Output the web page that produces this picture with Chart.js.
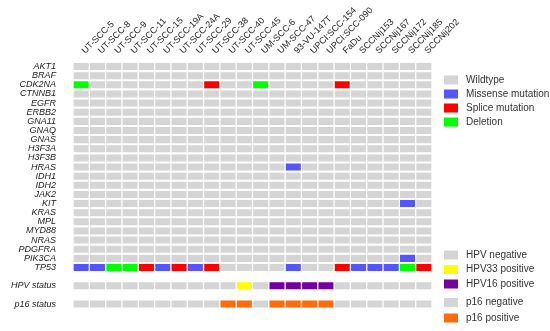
<!DOCTYPE html>
<html lang="en">
<head>
  <meta charset="UTF-8" />
  <title>Mutation overview of HNSCC cell lines</title>
  <script src="https://cdn.jsdelivr.net/npm/chart.js@4.4.0/dist/chart.umd.min.js"></script>
  <style>
    body {
      margin: 0;
      background-color: #fff;
    }
    #wrap {
      width: 550px;
      height: 331px;
    }
  </style>
</head>
<body>
  <div id="wrap"><canvas id="oncoprint" width="550" height="331"></canvas></div>

  <script>
    const cellLines = ['UT-SCC-5', 'UT-SCC-8', 'UT-SCC-9', 'UT-SCC-11', 'UT-SCC-15', 'UT-SCC-19A',
      'UT-SCC-24A', 'UT-SCC-29', 'UT-SCC-38', 'UT-SCC-40', 'UT-SCC-45', 'UM-SCC-6', 'UM-SCC-47',
      '93-VU-147T', 'UPCI:SCC-154', 'UPCI:SCC-090', 'FaDu', 'SCCNij153', 'SCCNij167',
      'SCCNij172', 'SCCNij185', 'SCCNij202'];

    const genes = ['AKT1', 'BRAF', 'CDK2NA', 'CTNNB1', 'EGFR', 'ERBB2', 'GNA11', 'GNAQ', 'GNAS',
      'H3F3A', 'H3F3B', 'HRAS', 'IDH1', 'IDH2', 'JAK2', 'KIT', 'KRAS', 'MPL', 'MYD88', 'NRAS',
      'PDGFRA', 'PIK3CA', 'TP53'];

    // W = wildtype, M = missense, S = splice, D = deletion (one letter per cell line)
    const mutations = [
      'WWWWWWWWWWWWWWWWWWWWWW', // AKT1
      'WWWWWWWWWWWWWWWWWWWWWW', // BRAF
      'DWWWWWWWSWWDWWWWSWWWWW', // CDK2NA
      'WWWWWWWWWWWWWWWWWWWWWW', // CTNNB1
      'WWWWWWWWWWWWWWWWWWWWWW', // EGFR
      'WWWWWWWWWWWWWWWWWWWWWW', // ERBB2
      'WWWWWWWWWWWWWWWWWWWWWW', // GNA11
      'WWWWWWWWWWWWWWWWWWWWWW', // GNAQ
      'WWWWWWWWWWWWWWWWWWWWWW', // GNAS
      'WWWWWWWWWWWWWWWWWWWWWW', // H3F3A
      'WWWWWWWWWWWWWWWWWWWWWW', // H3F3B
      'WWWWWWWWWWWWWMWWWWWWWW', // HRAS
      'WWWWWWWWWWWWWWWWWWWWWW', // IDH1
      'WWWWWWWWWWWWWWWWWWWWWW', // IDH2
      'WWWWWWWWWWWWWWWWWWWWWW', // JAK2
      'WWWWWWWWWWWWWWWWWWWWMW', // KIT
      'WWWWWWWWWWWWWWWWWWWWWW', // KRAS
      'WWWWWWWWWWWWWWWWWWWWWW', // MPL
      'WWWWWWWWWWWWWWWWWWWWWW', // MYD88
      'WWWWWWWWWWWWWWWWWWWWWW', // NRAS
      'WWWWWWWWWWWWWWWWWWWWWW', // PDGFRA
      'WWWWWWWWWWWWWWWWWWWWMW', // PIK3CA
      'MMDDSMSMSWWWWMWWSMMMDS'  // TP53
    ];

    // N = negative, 33 = HPV33 positive, 16 = HPV16 positive
    const hpvStatus = ['N', 'N', 'N', 'N', 'N', 'N', 'N', 'N', 'N', 'N', '33', 'N',
      '16', '16', '16', '16', 'N', 'N', 'N', 'N', 'N', 'N'];
    // N = negative, P = positive
    const p16Status = ['N', 'N', 'N', 'N', 'N', 'N', 'N', 'N', 'N', 'P', 'P', 'N',
      'P', 'P', 'P', 'P', 'N', 'N', 'N', 'N', 'N', 'N'];

    const mutationLegend = ['Wildtype', 'Missense mutation', 'Splice mutation', 'Deletion'];
    const hpvLegend = ['HPV negative', 'HPV33 positive', 'HPV16 positive'];
    const p16Legend = ['p16 negative', 'p16 positive'];

    const GRAY = '#d5d5d5';
    const mutColors = { W: GRAY, M: '#5555ff', S: '#ff0000', D: '#00ff00' };
    const hpvColors = { N: GRAY, '33': '#ffff00', '16': '#75009c' };
    const p16Colors = { N: GRAY, P: '#ff6a0a' };

    const FONT = '"Liberation Sans", Arial, sans-serif';

    // rows on the y axis: genes, a gap, HPV status, a gap, p16 status
    const rowLabels = genes.concat(['', 'HPV status', '', 'p16 status']);
    const rowCells = mutations.map(r => r.split('').map(c => mutColors[c]));
    rowCells.push(null, hpvStatus.map(c => hpvColors[c]), null, p16Status.map(c => p16Colors[c]));

    const half = 0.385;
    const datasets = [];
    rowCells.forEach((colors, r) => {
      if (!colors) return;
      datasets.push({
        label: rowLabels[r],
        data: cellLines.map(() => [r - half, r + half]),
        backgroundColor: colors,
        borderWidth: 0,
        grouped: false,
        barPercentage: 0.92,
        categoryPercentage: 1
      });
    });

    // legend drawn at the right side in three groups
    const legendPlugin = {
      id: 'sideLegend',
      afterDraw(chart) {
        const c = chart.ctx;
        const groups = [
          { items: mutationLegend, colors: [GRAY, mutColors.M, mutColors.S, mutColors.D], y: 80, step: 14 },
          { items: hpvLegend, colors: [GRAY, hpvColors['33'], hpvColors['16']], y: 255, step: 14.5 },
          { items: p16Legend, colors: [GRAY, p16Colors.P], y: 302.5, step: 15.5 }
        ];
        c.save();
        c.font = '10px ' + FONT;
        c.textBaseline = 'middle';
        c.textAlign = 'left';
        groups.forEach(g => {
          g.items.forEach((txt, i) => {
            const y = g.y + i * g.step;
            c.fillStyle = g.colors[i];
            c.fillRect(444, y - 4.5, 14, 9);
            c.fillStyle = '#333';
            c.fillText(txt, 466, y);
          });
        });
        c.restore();
      }
    };

    const ctx = document.getElementById('oncoprint').getContext('2d');
    new Chart(ctx, {
      type: 'bar',
      data: { labels: cellLines, datasets: datasets },
      options: {
        responsive: false,
        animation: false,
        layout: { padding: { top: 0, right: 118, bottom: 22, left: 0 } },
        scales: {
          x: {
            position: 'top',
            grid: { display: false, drawTicks: false },
            border: { display: false },
            ticks: {
              autoSkip: false,
              maxRotation: 45,
              minRotation: 45,
              padding: 6,
              labelOffset: 10,
              color: '#222',
              font: { family: FONT, size: 9 }
            },
            afterFit: (scale) => { scale.height = 62; }
          },
          y: {
            type: 'linear',
            reverse: true,
            min: -0.5,
            max: rowLabels.length - 0.5,
            grid: { display: false, drawTicks: false },
            border: { display: false },
            afterBuildTicks: (scale) => {
              scale.ticks = rowLabels.map((_, i) => ({ value: i }));
            },
            ticks: {
              autoSkip: false,
              padding: 17,
              color: '#222',
              font: { family: FONT, size: 9, style: 'italic' },
              callback: (value) => rowLabels[value]
            },
            afterFit: (scale) => { scale.width = 73; }
          }
        },
        plugins: {
          legend: { display: false },
          tooltip: { enabled: false }
        }
      },
      plugins: [legendPlugin]
    });
  </script>
</body>
</html>
